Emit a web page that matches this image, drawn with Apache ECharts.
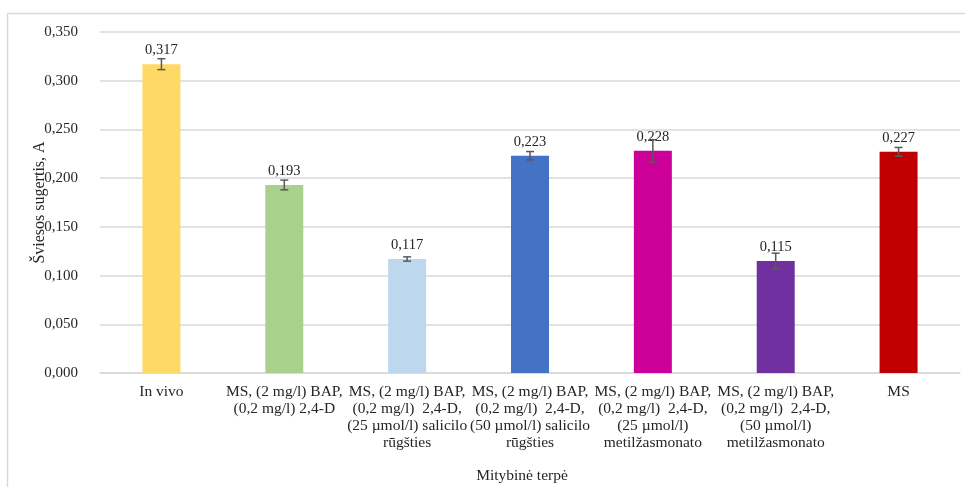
<!DOCTYPE html>
<html>
<head>
<meta charset="utf-8">
<script src="https://cdn.jsdelivr.net/npm/echarts@6/dist/echarts.min.js"></script>
<style>
  html, body { margin: 0; padding: 0; background: #fff; }
  #chart { width: 965px; height: 487px; }
</style>
</head>
<body>
<div id="chart"></div>
<script>
// Culture media (x categories)
const categories = [
  'In vivo',
  'MS, (2 mg/l) BAP,\n(0,2 mg/l) 2,4-D',
  'MS, (2 mg/l) BAP,\n(0,2 mg/l)  2,4-D,\n(25 µmol/l) salicilo\nrūgšties',
  'MS, (2 mg/l) BAP,\n(0,2 mg/l)  2,4-D,\n(50 µmol/l) salicilo\nrūgšties',
  'MS, (2 mg/l) BAP,\n(0,2 mg/l)  2,4-D,\n(25 µmol/l)\nmetilžasmonato',
  'MS, (2 mg/l) BAP,\n(0,2 mg/l)  2,4-D,\n(50 µmol/l)\nmetilžasmonato',
  'MS'
];
// Mean absorbance per medium
const absorbance = [0.317, 0.193, 0.117, 0.223, 0.228, 0.115, 0.227];
// Standard error per medium (±)
const errors = [0.0056, 0.005, 0.0022, 0.0043, 0.0115, 0.008, 0.0045];
// Bar colours per medium
const barColors = ['#FFD966', '#A9D18E', '#BDD7EE', '#4472C4', '#CC0099', '#7030A0', '#C00000'];

const fmt = v => v.toFixed(3).replace('.', ',');
const FONT = '"Liberation Serif", "Times New Roman", serif';

const chart = echarts.init(document.getElementById('chart'), null, { renderer: 'canvas' });

chart.setOption({
  animation: false,
  backgroundColor: '#ffffff',
  graphic: [{
    type: 'rect',
    shape: { x: 7.5, y: 13.5, width: 1000, height: 1000 },
    style: { fill: 'none', stroke: '#d9d9d9', lineWidth: 1.5 },
    silent: true,
    z: -10
  }],
  grid: { left: 100, right: 5, top: 32, bottom: 114, containLabel: false, outerBoundsMode: 'none' },
  xAxis: {
    type: 'category',
    data: categories,
    name: 'Mitybinė terpė',
    nameLocation: 'middle',
    nameGap: 95,
    nameMoveOverlap: false,
    nameTextStyle: { fontFamily: FONT, fontSize: 15.5, color: '#262626', padding: [0, 16, 0, 0] },
    axisLine: { lineStyle: { color: '#d9d9d9', width: 1.5 } },
    axisTick: { show: false },
    axisLabel: {
      interval: 0,
      hideOverlap: false,
      fontFamily: FONT,
      fontSize: 15.5,
      color: '#262626',
      lineHeight: 16.7,
      margin: 11,
      align: 'center'
    }
  },
  yAxis: {
    type: 'value',
    min: 0,
    max: 0.35,
    interval: 0.05,
    name: 'Šviesos sugertis, A',
    nameLocation: 'middle',
    nameGap: 52,
    nameMoveOverlap: false,
    nameTextStyle: { fontFamily: FONT, fontSize: 16, color: '#262626' },
    axisLine: { show: false },
    axisTick: { show: false },
    splitLine: { lineStyle: { color: '#d9d9d9', width: 1.5 } },
    axisLabel: {
      fontFamily: FONT,
      fontSize: 15,
      color: '#262626',
      margin: 22,
      formatter: v => fmt(v)
    }
  },
  series: [
    {
      type: 'bar',
      barWidth: 38,
      data: absorbance.map((v, i) => ({ value: v, itemStyle: { color: barColors[i] } })),
      label: {
        show: true,
        position: 'top',
        distance: 6,
        fontFamily: FONT,
        fontSize: 14.5,
        color: '#262626',
        formatter: p => fmt(p.value)
      },
      z: 2
    },
    {
      type: 'custom',
      data: absorbance.map((v, i) => [i, v - errors[i], v + errors[i]]),
      renderItem: (params, api) => {
        const x = api.value(0);
        const lo = api.coord([x, api.value(1)]);
        const hi = api.coord([x, api.value(2)]);
        const cap = 4;
        const style = { stroke: '#595959', lineWidth: 1.5 };
        return {
          type: 'group',
          children: [
            { type: 'line', shape: { x1: lo[0], y1: lo[1], x2: hi[0], y2: hi[1] }, style },
            { type: 'line', shape: { x1: lo[0] - cap, y1: lo[1], x2: lo[0] + cap, y2: lo[1] }, style },
            { type: 'line', shape: { x1: hi[0] - cap, y1: hi[1], x2: hi[0] + cap, y2: hi[1] }, style }
          ]
        };
      },
      z: 3
    }
  ]
});
</script>
</body>
</html>
